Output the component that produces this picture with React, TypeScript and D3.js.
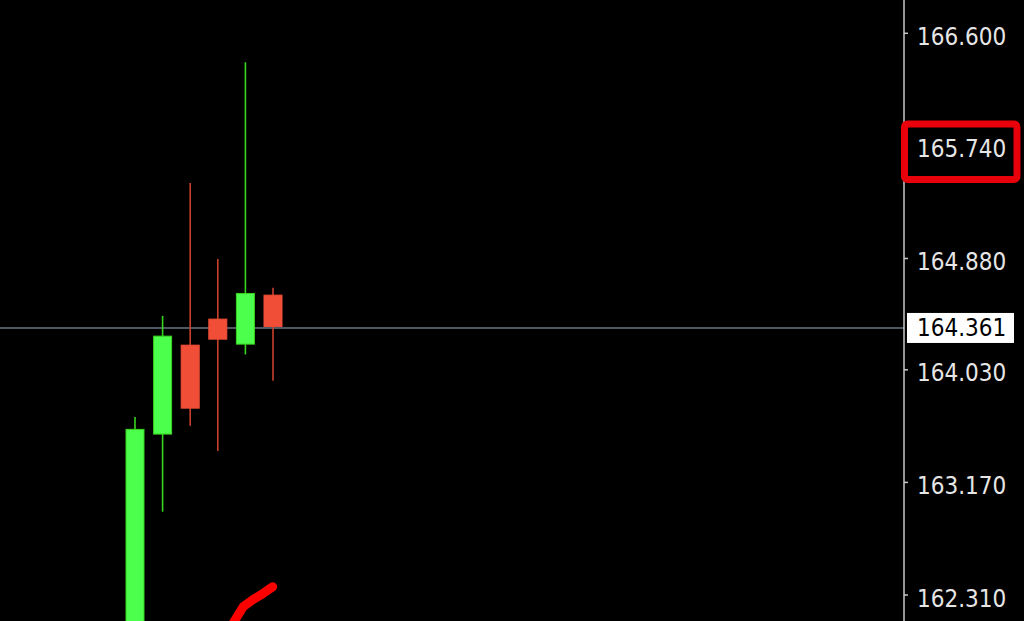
import React from "react";
import * as d3 from "d3";

const W = 1024;
const H = 621;

// candle data (index, open, high, low, close)
const opens = [161.9, 163.539, 164.218, 164.417, 164.226, 164.6];
const highs = [163.669, 164.442, 165.457, 164.877, 166.379, 164.656];
const lows = [161.85, 162.946, 163.602, 163.409, 164.147, 163.946];
const closes = [163.575, 164.287, 163.737, 164.264, 164.613, 164.361];

const tickValues = [166.6, 165.74, 164.88, 164.03, 163.17, 162.31];
const tickLabels = ["166.600", "165.740", "164.880", "164.030", "163.170", "162.310"];

const currentPrice = 164.361;
const currentLabel = "164.361";
const highlightedTick = 165.74;

// freehand annotation stroke in (candle index, price)
const scribbleX = [3.48, 3.623, 3.924, 4.286, 4.649, 4.989];
const scribbleY = [162.065, 162.119, 162.221, 162.277, 162.323, 162.373];

const GREEN_FILL = "#4dff4d";
const GREEN_EDGE = "#38d41f";
const RED_FILL = "#f04e37";
const RED_EDGE = "#c8402c";

const FONT = "'DejaVu Sans Condensed', 'DejaVu Sans', Tahoma, sans-serif";

export default function App() {
  const axisX = 904;
  const x = d3.scaleLinear().domain([0, 5]).range([135, 273]);
  const y = d3.scaleLinear().domain([162.31, 166.6]).range([595, 33.3]);
  const bodyW = 18;

  const line = d3
    .line<number>()
    .x((_, i) => x(scribbleX[i]))
    .y((d) => y(d))
    .curve(d3.curveLinear);

  const hy = y(highlightedTick);
  const py = y(currentPrice);

  return (
    <svg
      width={W}
      height={H}
      style={{ position: "absolute", left: 0, top: 0, background: "#000", display: "block" }}
    >
      <defs>
        <clipPath id="plot">
          <rect x={0} y={0} width={axisX} height={H} />
        </clipPath>
      </defs>
      <rect x={0} y={0} width={W} height={H} fill="#000" />

      {/* current price line */}
      <line x1={0} x2={axisX} y1={py + 1.5} y2={py + 1.5} stroke="#6b7685" strokeWidth={1.6} />

      <g clipPath="url(#plot)">
        {opens.map((o, i) => {
          const c = closes[i];
          const up = c >= o;
          const fill = up ? GREEN_FILL : RED_FILL;
          const edge = up ? GREEN_EDGE : RED_EDGE;
          const cx = x(i);
          const top = y(Math.max(o, c));
          const bot = y(Math.min(o, c));
          return (
            <g key={i}>
              <line x1={cx} x2={cx} y1={y(highs[i])} y2={y(lows[i])} stroke={edge} strokeWidth={1.6} />
              <rect
                x={cx - bodyW / 2}
                y={top}
                width={bodyW}
                height={Math.max(1, bot - top)}
                fill={fill}
                stroke={up ? GREEN_EDGE : fill}
                strokeWidth={1}
              />
            </g>
          );
        })}
        <path
          d={line(scribbleY) || ""}
          fill="none"
          stroke="#ff0000"
          strokeWidth={9}
          strokeLinecap="round"
          strokeLinejoin="round"
        />
      </g>

      {/* axis */}
      <line x1={axisX} x2={axisX} y1={0} y2={H} stroke="#c8c8c8" strokeWidth={1.5} />
      {tickValues.map((v, i) => (
        <g key={v}>
          <line x1={axisX} x2={axisX + 4} y1={y(v)} y2={y(v)} stroke="#c8c8c8" strokeWidth={1.5} />
          <text
            x={917}
            y={y(v) + 11.5}
            fill="#e6e6e6"
            fontFamily={FONT}
            fontSize={24}
          >
            {tickLabels[i]}
          </text>
        </g>
      ))}

      {/* current price label */}
      <rect x={907} y={py + 1.5 - 15} width={107} height={30} fill="#ffffff" />
      <text x={917} y={py + 1.5 + 8.5} fill="#000" fontFamily={FONT} fontSize={24}>
        {currentLabel}
      </text>

      {/* highlight box */}
      <rect
        x={904.5}
        y={hy - 22}
        width={112.5}
        height={55.5}
        fill="none"
        stroke="#e8000b"
        strokeWidth={7}
        rx={3}
      />
    </svg>
  );
}
